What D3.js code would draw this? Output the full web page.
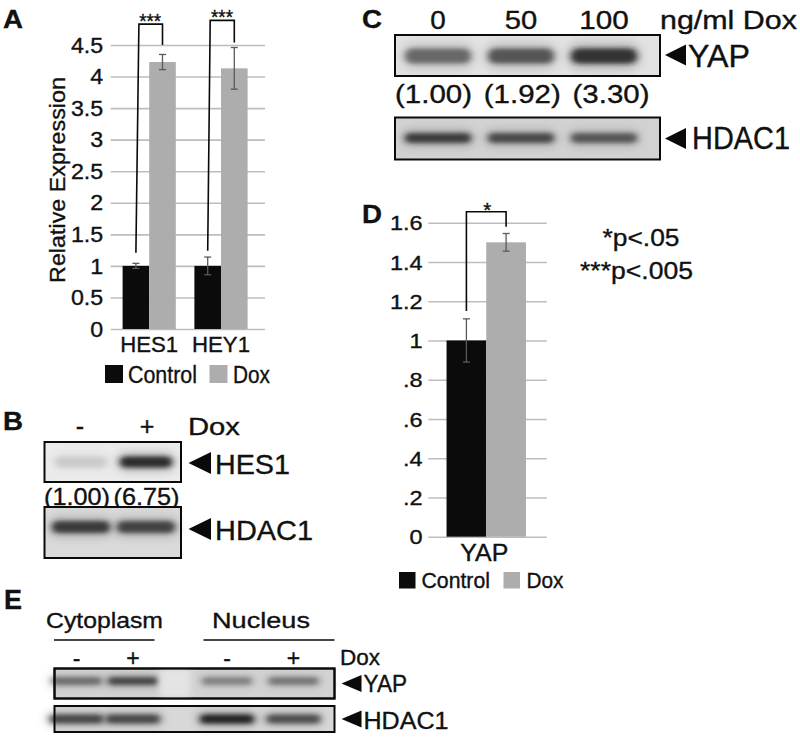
<!DOCTYPE html>
<html><head><meta charset="utf-8">
<script src="https://cdn.jsdelivr.net/npm/d3@7/dist/d3.min.js"></script>
<style>
html,body{margin:0;padding:0;background:#fff;}
svg{display:block;font-family:"Liberation Sans",Arial,Helvetica,sans-serif;}
svg text{stroke:#111;stroke-width:0.35px;}
</style></head>
<body>
<svg id="fig" width="800" height="739"></svg>
<script>
// ---------------- DATA ----------------
const seriesNames = ["Control", "Dox"];
const seriesColors = ["#0b0b0b", "#adadad"];

// Panel A: qPCR
const catsA = ["HES1", "HEY1"];
const ctrlA = [1.00, 1.00];
const doxA = [4.23, 4.13];
const ctrlErrA = [0.04, 0.14];
const doxErrA = [0.12, 0.33];
const sigA = ["***", "***"];
const ticksA = [0, 0.5, 1, 1.5, 2, 2.5, 3, 3.5, 4, 4.5];
const tickLabelsA = ["0", "0.5", "1", "1.5", "2", "2.5", "3", "3.5", "4", "4.5"];

// Panel B: western
const lanesB = ["-", "+"];
const ratiosB = ["(1.00)", "(6.75)"];
const bandsB_HES1 = [0.12, 0.9];
const bandsB_HDAC1 = [0.8, 0.75];

// Panel C: dose western
const dosesC = ["0", "50", "100"];
const ratiosC = ["(1.00)", "(1.92)", "(3.30)"];
const bandsC_YAP = [0.55, 0.65, 0.85];
const bandsC_HDAC1 = [0.78, 0.7, 0.62];

// Panel D: YAP qPCR
const catsD = ["YAP"];
const ctrlD = [1.00];
const doxD = [1.50];
const ctrlErrD = [0.11];
const doxErrD = [0.045];
const sigD = ["*"];
const ticksD = [0, 0.2, 0.4, 0.6, 0.8, 1, 1.2, 1.4, 1.6];
const tickLabelsD = ["0", ".2", ".4", ".6", ".8", "1", "1.2", "1.4", "1.6"];
const pNotes = ["*p<.05", "***p<.005"];

// Panel E: fractionation western
const fractionsE = ["Cytoplasm", "Nucleus"];
const signsE = ["-", "+"];
const bandsE_YAP = [0.5, 0.72, 0.38, 0.45];
const bandsE_HDAC1 = [0.72, 0.72, 0.95, 0.68];

// ---------------- HELPERS ----------------
const svg = d3.select("#fig");
const defs = svg.append("defs");
defs.append("filter").attr("id", "blur").attr("x", "-30%").attr("y", "-80%").attr("width", "160%").attr("height", "260%")
  .append("feGaussianBlur").attr("stdDeviation", "3 2.2");
defs.append("filter").attr("id", "blur2").attr("x", "-30%").attr("y", "-80%").attr("width", "160%").attr("height", "260%")
  .append("feGaussianBlur").attr("stdDeviation", "5 4");

function txt(parent, x, y, s, o) {
  o = o || {};
  const t = parent.append("text").attr("x", 0).attr("y", 0).text(s)
    .attr("font-size", o.size || 20)
    .attr("text-anchor", o.anchor || "start")
    .attr("fill", o.fill || "#111");
  if (o.bold) t.attr("font-weight", "bold");
  let sx = o.sx || 1;
  if (o.w) { const n = t.node().getComputedTextLength(); if (n > 0) sx = o.w / n; }
  t.attr("transform", `translate(${x},${y}) scale(${sx.toFixed(3)},1)`);
  return t;
}
function arrow(parent, tipX, baseX, cy, h) {
  parent.append("path").attr("d", `M${tipX},${cy}L${baseX},${cy - h}L${baseX},${cy + h}Z`).attr("fill", "#0a0a0a");
}
function blot(parent, x0, x1, y0, y1, bg, lanePos, intens, bw, bh, bcy) {
  const g = parent.append("g");
  g.append("rect").attr("x", x0).attr("y", y0).attr("width", x1 - x0).attr("height", y1 - y0).attr("fill", bg);
  lanePos.forEach((cx, i) => {
    const a = intens[i];
    g.append("rect").attr("x", cx - bw / 2 - 4).attr("y", bcy - bh * 0.9).attr("width", bw + 8).attr("height", bh * 1.8)
      .attr("rx", bh * 0.9).attr("fill", "#555").attr("opacity", a * 0.35).attr("filter", "url(#blur2)");
    g.append("rect").attr("x", cx - bw / 2).attr("y", bcy - bh / 2).attr("width", bw).attr("height", bh)
      .attr("rx", bh / 2).attr("fill", "#1a1a1a").attr("opacity", a).attr("filter", "url(#blur)");
  });
  g.append("rect").attr("x", x0).attr("y", y0).attr("width", x1 - x0).attr("height", y1 - y0)
    .attr("fill", "none").attr("stroke", "#0a0a0a").attr("stroke-width", 2);
}
function styleAxis(g, size, sx) {
  g.select(".domain").remove();
  g.selectAll(".tick line").attr("stroke", "#bdbdbd").attr("stroke-width", 1.6);
  g.selectAll(".tick text").each(function () {
    const t = d3.select(this);
    const x = +t.attr("x");
    t.attr("x", 0).attr("dy", null).attr("y", 0)
      .attr("font-size", size).attr("fill", "#111").attr("font-family", null)
      .attr("dominant-baseline", "central")
      .attr("transform", `translate(${x},0) scale(${sx},1)`);
  });
}
function barChart(p) {
  const g = svg.append("g");
  const y = d3.scaleLinear().domain(p.domain).range(p.yRange);
  const ax = g.append("g").attr("transform", `translate(${p.gx0},0)`)
    .call(d3.axisLeft(y).tickValues(p.ticks).tickFormat((d, i) => p.tickLabels[i])
      .tickSize(-(p.gx1 - p.gx0)).tickPadding(p.pad));
  styleAxis(ax, p.tickSize, p.tickSx);
  const xSub = d3.scaleBand().domain(seriesNames).range([-p.bw, p.bw]);
  const rows = p.cats.map((c, i) => ({ c, vals: [p.ctrl[i], p.dox[i]], errs: [p.ctrlErr[i], p.doxErr[i]] }));
  rows.forEach((r, i) => {
    const cx = p.x(r.c);
    seriesNames.forEach((s, j) => {
      g.append("rect").attr("x", cx + xSub(s)).attr("width", xSub.bandwidth())
        .attr("y", y(r.vals[j])).attr("height", y(0) - y(r.vals[j])).attr("fill", seriesColors[j]);
    });
    seriesNames.forEach((s, j) => {
      const ex = cx + xSub(s) + xSub.bandwidth() / 2;
      const hi = y(r.vals[j] + r.errs[j]), lo = y(r.vals[j] - r.errs[j]);
      const col = "#5a5a5a";
      g.append("line").attr("x1", ex).attr("x2", ex).attr("y1", hi).attr("y2", lo).attr("stroke", col).attr("stroke-width", 1.3);
      [hi, lo].forEach(yy => g.append("line").attr("x1", ex - 3.5).attr("x2", ex + 3.5).attr("y1", yy).attr("y2", yy)
        .attr("stroke", col).attr("stroke-width", 1.3));
    });
    // significance bracket
    const b = p.brackets[i];
    const lx = cx + xSub("Control") + xSub.bandwidth() / 2, rx = cx + xSub("Dox") + xSub.bandwidth() / 2;
    g.append("path").attr("d", `M${lx},${y(b.left)}L${lx + b.slant},${y(b.top)}L${rx},${y(b.top)}L${rx},${y(b.right)}`)
      .attr("fill", "none").attr("stroke", "#0a0a0a").attr("stroke-width", 1.6);
    txt(g, (lx + rx) / 2 + 1, y(b.top) + p.starDy[i], p.sig[i], { size: p.starSize, anchor: "middle", w: p.starW });
    txt(g, cx + p.labDx, p.catY, r.c, { size: p.catSize, anchor: "middle", w: p.catW[i] });
  });
  // legend
  p.legend.forEach((L, j) => {
    g.append("rect").attr("x", L.x).attr("y", L.y).attr("width", L.s).attr("height", L.s).attr("fill", seriesColors[j]);
    txt(g, L.tx, L.ty, seriesNames[j], { size: L.size, w: L.w });
  });
  return { g, y };
}

// ---------------- PANEL A ----------------
txt(svg, 3, 28, "A", { size: 26, bold: true, w: 20 });
barChart({
  cats: catsA, ctrl: ctrlA, dox: doxA, ctrlErr: ctrlErrA, doxErr: doxErrA, sig: sigA,
  domain: [0, 4.5], yRange: [329, 45], ticks: ticksA, tickLabels: tickLabelsA,
  gx0: 110.7, gx1: 265, pad: 7.5, tickSize: 21.5, tickSx: 1.08,
  x: d3.scalePoint().domain(catsA).range([149.2, 221]), bw: 26.6,
  brackets: [{ left: 1.21, top: 4.83, right: 4.5, slant: 3 }, { left: 1.24, top: 4.89, right: 4.54, slant: 2.5 }],
  starDy: [4, 3.5], starSize: 20, starW: 22,
  catY: 352, catSize: 22.5, catW: [58, 58], labDx: 0,
  legend: [{ x: 105, y: 365, s: 18, tx: 128, ty: 382.5, size: 23.5, w: 69 },
           { x: 209.5, y: 365, s: 18, tx: 233, ty: 382.5, size: 23.5, w: 37 }]
});
txt(svg.append("g").attr("transform", "translate(65,180) rotate(-90)"), 0, 0, "Relative Expression", { size: 21.5, anchor: "middle", w: 206 });

// ---------------- PANEL B ----------------
txt(svg, 3, 430, "B", { size: 26, bold: true, w: 20 });
const xB = d3.scalePoint().domain(d3.range(lanesB.length)).range([80, 147]);
lanesB.forEach((l, i) => txt(svg, xB(i), 435, l, { size: 25, anchor: "middle" }));
txt(svg, 188, 435, "Dox", { size: 23.5, w: 52 });
const bandB = d3.scalePoint().domain(d3.range(lanesB.length)).range([81, 146]);
blot(svg, 44.5, 181, 442, 482, "#ebebeb", d3.range(2).map(bandB), bandsB_HES1, 52, 11, 462);
arrow(svg, 188.5, 211, 463, 11);
txt(svg, 215, 474, "HES1", { size: 27, w: 75 });
const xRB = d3.scalePoint().domain(ratiosB).range([77, 146.5]);
ratiosB.forEach(r => txt(svg, xRB(r), 505, r, { size: 23, anchor: "middle", w: 66 }));
blot(svg, 44.5, 181, 507, 558, "#dadada", d3.range(2).map(bandB), bandsB_HDAC1, 58, 12, 527);
arrow(svg, 188.5, 211, 529, 11);
txt(svg, 215, 540, "HDAC1", { size: 27, w: 98 });

// ---------------- PANEL C ----------------
txt(svg, 362, 28, "C", { size: 26, bold: true, w: 20 });
const xC = d3.scalePoint().domain(dosesC).range([438, 604]);
dosesC.forEach(d => txt(svg, xC(d), 28.5, d, { size: 25, anchor: "middle", w: 15.5 * d.length + (d.length - 1) * 1.5 }));
txt(svg, 660, 28.5, "ng/ml Dox", { size: 25, w: 137 });
blot(svg, 395, 660, 35, 76, "#e2e2e2", dosesC.map(xC), bandsC_YAP, 66, 15, 56);
arrow(svg, 665, 686, 55, 10.5);
txt(svg, 688, 66.5, "YAP", { size: 31, w: 62 });
const xRC = d3.scalePoint().domain(ratiosC).range([433.5, 611]);
ratiosC.forEach(r => txt(svg, xRC(r), 103, r, { size: 25, anchor: "middle", w: 77 }));
blot(svg, 395, 660, 117.5, 159.5, "#d2d2d2", dosesC.map(xC), bandsC_HDAC1, 66, 10, 138);
arrow(svg, 665, 686, 138.5, 10.5);
txt(svg, 692, 149, "HDAC1", { size: 31, w: 98 });

// ---------------- PANEL D ----------------
txt(svg, 362, 223, "D", { size: 26, bold: true, w: 20 });
barChart({
  cats: catsD, ctrl: ctrlD, dox: doxD, ctrlErr: ctrlErrD, doxErr: doxErrD, sig: sigD,
  domain: [0, 1.6], yRange: [536.7, 222.7], ticks: ticksD, tickLabels: tickLabelsD,
  gx0: 428.3, gx1: 546.7, pad: 5.6, tickSize: 21, tickSx: 1.12,
  x: d3.scalePoint().domain(catsD).range([446.5, 526]), bw: 39.7,
  brackets: [{ left: 1.15, top: 1.656, right: 1.58, slant: 0 }],
  starDy: [5], starSize: 20, starW: 8,
  catY: 561, catSize: 24, catW: [48], labDx: -2,
  legend: [{ x: 399, y: 572, s: 16.5, tx: 421.5, ty: 588, size: 21.5, w: 68.5 },
           { x: 503.5, y: 572, s: 16.5, tx: 526.5, ty: 588, size: 21.5, w: 37 }]
});
const yP = d3.scalePoint().domain(pNotes).range([245.7, 279]);
txt(svg, 641, yP(pNotes[0]), pNotes[0], { size: 23.5, anchor: "middle", w: 77 });
txt(svg, 636.5, yP(pNotes[1]), pNotes[1], { size: 23.5, anchor: "middle", w: 113 });

// ---------------- PANEL E ----------------
txt(svg, 4, 609, "E", { size: 27, bold: true, w: 18 });
const xF = d3.scalePoint().domain(fractionsE).range([104.5, 261]);
const lineSpan = [[54, 154.5], [203.5, 334.5]];
fractionsE.forEach((f, i) => {
  txt(svg, xF(f), 628, f, { size: 22.5, anchor: "middle", w: f === "Cytoplasm" ? 117 : 98 });
  svg.append("line").attr("x1", lineSpan[i][0]).attr("x2", lineSpan[i][1]).attr("y1", 640).attr("y2", 640)
    .attr("stroke", "#0a0a0a").attr("stroke-width", 1.6);
});
const xS = { Cytoplasm: d3.scalePoint().domain(signsE).range([-28, 28.5]), Nucleus: d3.scalePoint().domain(signsE).range([-34, 32.5]) };
const lanesE = [];
fractionsE.forEach(f => signsE.forEach(s => lanesE.push(xF(f) + xS[f](s))));
let k = 0;
fractionsE.forEach(f => signsE.forEach(s => { txt(svg, lanesE[k++], 666, s, { size: 23, anchor: "middle" }); }));
txt(svg, 340, 665, "Dox", { size: 21.5, w: 40 });
blot(svg, 54.5, 334.5, 668.5, 698.5, "#d3d3d3", lanesE, bandsE_YAP, 50, 8, 681);
// lighter gap region between fractions
svg.append("rect").attr("x", 160).attr("y", 670).attr("width", 30).attr("height", 27).attr("fill", "#e4e4e4").attr("filter", "url(#blur)");
svg.append("rect").attr("x", 54.5).attr("y", 668.5).attr("width", 280).attr("height", 30).attr("fill", "none").attr("stroke", "#0a0a0a").attr("stroke-width", 2);
arrow(svg, 341.5, 361.5, 683.5, 8.5);
txt(svg, 363.5, 692, "YAP", { size: 23.5, w: 43.5 });
blot(svg, 54.5, 334.5, 706, 732, "#d8d8d8", lanesE, bandsE_HDAC1, 54, 9, 719);
arrow(svg, 341.5, 361.5, 719, 8.5);
txt(svg, 363.5, 728.5, "HDAC1", { size: 23.5, w: 85 });
</script>
</body></html>
